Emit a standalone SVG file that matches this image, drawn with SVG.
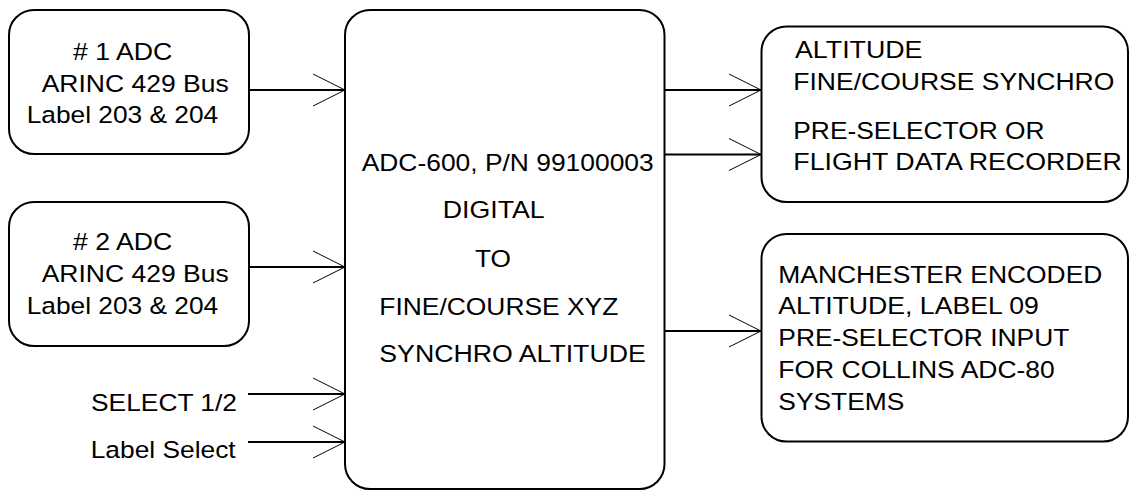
<svg xmlns="http://www.w3.org/2000/svg" width="1130" height="491" viewBox="0 0 1130 491">
<style>
.box{fill:#fff;stroke:#000;stroke-width:2}
.t{font-family:"Liberation Sans",Arial,sans-serif;font-size:24.5px;fill:#000}
.wire{fill:none;stroke:#000;stroke-width:2}
.head{fill:none;stroke:#000;stroke-width:1}
</style>
<defs>
<marker id="arr" markerUnits="userSpaceOnUse" markerWidth="40" markerHeight="40" refX="32" refY="16" orient="auto" overflow="visible">
<path class="head" d="M0,0 L32,16 L0,32"/>
</marker>
</defs>
<rect width="1130" height="491" fill="#fff"/>
<g id="adc1">
<rect class="box" x="9" y="10" width="240" height="144" rx="25" ry="25"/>
<text class="t" x="73" y="59.5" textLength="99.4" lengthAdjust="spacingAndGlyphs"># 1 ADC</text>
<text class="t" x="41.7" y="91.5" textLength="187" lengthAdjust="spacingAndGlyphs">ARINC 429 Bus</text>
<text class="t" x="26.7" y="123" textLength="191.5" lengthAdjust="spacingAndGlyphs">Label 203 &amp; 204</text>
</g>
<g id="adc2">
<rect class="box" x="9" y="202" width="240" height="144" rx="25" ry="25"/>
<text class="t" x="73" y="250" textLength="99.4" lengthAdjust="spacingAndGlyphs"># 2 ADC</text>
<text class="t" x="41.7" y="282" textLength="187" lengthAdjust="spacingAndGlyphs">ARINC 429 Bus</text>
<text class="t" x="26.7" y="313.5" textLength="191.5" lengthAdjust="spacingAndGlyphs">Label 203 &amp; 204</text>
</g>
<g id="select12">
<text class="t" x="91" y="410.5" textLength="146" lengthAdjust="spacingAndGlyphs">SELECT 1/2</text>
</g>
<g id="labelselect">
<text class="t" x="90.7" y="458.3" textLength="145" lengthAdjust="spacingAndGlyphs">Label Select</text>
</g>
<g id="converter">
<rect class="box" x="345" y="10" width="319.5" height="479" rx="25" ry="25"/>
<text class="t" x="361.7" y="170.7" textLength="292" lengthAdjust="spacingAndGlyphs">ADC-600, P/N 99100003</text>
<text class="t" x="442.7" y="218.3" textLength="102" lengthAdjust="spacingAndGlyphs">DIGITAL</text>
<text class="t" x="475" y="266.7" textLength="36" lengthAdjust="spacingAndGlyphs">TO</text>
<text class="t" x="379.3" y="315" textLength="239" lengthAdjust="spacingAndGlyphs">FINE/COURSE XYZ</text>
<text class="t" x="379.3" y="361.7" textLength="266.5" lengthAdjust="spacingAndGlyphs">SYNCHRO ALTITUDE</text>
</g>
<g id="synchro-out">
<rect class="box" x="761.5" y="26.5" width="366.5" height="175.5" rx="25" ry="25"/>
<text class="t" x="795" y="57.5" textLength="127.5" lengthAdjust="spacingAndGlyphs">ALTITUDE</text>
<text class="t" x="793.3" y="90" textLength="321" lengthAdjust="spacingAndGlyphs">FINE/COURSE SYNCHRO</text>
<text class="t" x="793.3" y="139.3" textLength="251.3" lengthAdjust="spacingAndGlyphs">PRE-SELECTOR OR</text>
<text class="t" x="793.3" y="170" textLength="328.5" lengthAdjust="spacingAndGlyphs">FLIGHT DATA RECORDER</text>
</g>
<g id="manchester-out">
<rect class="box" x="761.5" y="234" width="366.5" height="207.5" rx="25" ry="25"/>
<text class="t" x="778.3" y="282.5" textLength="324" lengthAdjust="spacingAndGlyphs">MANCHESTER ENCODED</text>
<text class="t" x="778.3" y="313.5" textLength="260.5" lengthAdjust="spacingAndGlyphs">ALTITUDE, LABEL 09</text>
<text class="t" x="778.3" y="346" textLength="291" lengthAdjust="spacingAndGlyphs">PRE-SELECTOR INPUT</text>
<text class="t" x="778.3" y="377.5" textLength="276.5" lengthAdjust="spacingAndGlyphs">FOR COLLINS ADC-80</text>
<text class="t" x="778.3" y="409.5" textLength="126" lengthAdjust="spacingAndGlyphs">SYSTEMS</text>
</g>
<g id="connectors">
<path class="wire" d="M249,90 H345" marker-end="url(#arr)"/>
<path class="wire" d="M249,267 H345" marker-end="url(#arr)"/>
<path class="wire" d="M248,394 H345" marker-end="url(#arr)"/>
<path class="wire" d="M248,442 H345" marker-end="url(#arr)"/>
<path class="wire" d="M665,90 H761" marker-end="url(#arr)"/>
<path class="wire" d="M665,154.5 H761" marker-end="url(#arr)"/>
<path class="wire" d="M665,331 H761" marker-end="url(#arr)"/>
</g>
</svg>
